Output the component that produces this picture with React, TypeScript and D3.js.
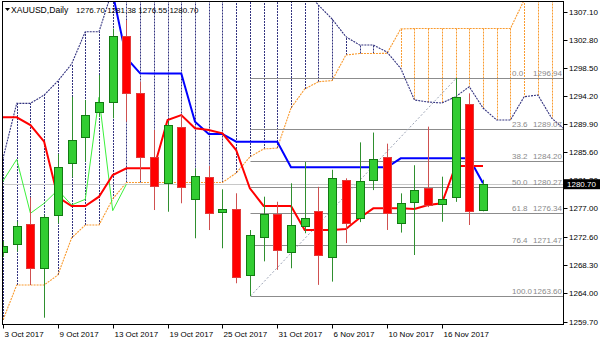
import React from "react";
import * as d3 from "d3";

const dates = ["3 Oct 2017","4 Oct 2017","5 Oct 2017","6 Oct 2017","9 Oct 2017","10 Oct 2017","11 Oct 2017","12 Oct 2017","13 Oct 2017","16 Oct 2017","17 Oct 2017","18 Oct 2017","19 Oct 2017","20 Oct 2017","23 Oct 2017","24 Oct 2017","25 Oct 2017","26 Oct 2017","27 Oct 2017","30 Oct 2017","31 Oct 2017","1 Nov 2017","2 Nov 2017","3 Nov 2017","6 Nov 2017","7 Nov 2017","8 Nov 2017","9 Nov 2017","10 Nov 2017","13 Nov 2017","14 Nov 2017","15 Nov 2017","16 Nov 2017","17 Nov 2017","20 Nov 2017","21 Nov 2017"];

const opens = [1270.33,1271.51,1274.61,1267.84,1275.99,1283.90,1287.87,1291.79,1293.32,1303.36,1294.69,1284.90,1280.84,1289.40,1278.39,1281.75,1276.40,1276.91,1266.81,1272.58,1276.14,1270.38,1274.30,1276.65,1269.61,1281.34,1275.58,1281.34,1284.90,1274.72,1278.02,1280.07,1277.67,1278.79,1292.96,1276.70];
const highs = [1272.00,1275.00,1278.70,1276.00,1285.32,1294.08,1293.58,1297.40,1304.50,1305.80,1296.37,1288.99,1290.30,1291.28,1283.13,1283.48,1279.92,1279.31,1273.69,1278.79,1278.02,1280.84,1284.10,1280.30,1282.90,1281.60,1287.10,1288.60,1286.90,1279.30,1283.60,1289.50,1281.85,1296.94,1294.60,1281.38];
const lows = [1269.60,1270.40,1265.30,1260.28,1274.72,1281.76,1284.14,1291.00,1290.78,1290.26,1281.34,1276.75,1276.49,1277.78,1272.43,1273.69,1270.90,1265.55,1263.60,1268.90,1267.60,1267.84,1273.20,1265.30,1265.80,1271.70,1274.90,1279.80,1273.70,1273.30,1269.87,1277.20,1274.96,1278.00,1274.46,1276.55];
const closes = [1271.25,1274.35,1267.84,1275.64,1283.38,1287.46,1291.28,1293.32,1303.36,1294.69,1284.90,1280.47,1289.75,1280.32,1281.95,1276.25,1276.86,1266.55,1272.93,1276.14,1270.64,1274.46,1275.50,1269.87,1281.60,1274.81,1281.19,1284.50,1276.25,1277.78,1279.81,1277.52,1278.39,1293.99,1276.65,1280.70];

// Ichimoku values, first entry is bar index -1
const tenkan = [1290.93,1290.93,1290.93,1289.75,1287.20,1278.74,1277.37,1277.37,1278.79,1282.11,1283.13,1283.13,1283.13,1290.52,1291.28,1289.25,1288.99,1288.48,1285.93,1280.07,1277.37,1277.37,1277.37,1273.69,1273.69,1273.69,1273.85,1275.53,1277.01,1277.01,1277.01,1276.91,1277.52,1277.78,1283.48,1283.48,1283.48];
const kijun = [1310.5,1310.5,1310.5,1310.5,1310.5,1310.5,1310.5,1310.5,1310.5,1309.9,1300.0,1297.66,1297.63,1297.63,1297.63,1290.26,1288.38,1288.38,1287.20,1287.20,1287.20,1287.20,1283.28,1283.28,1283.28,1283.28,1283.28,1283.28,1283.28,1283.28,1284.66,1284.66,1284.66,1284.66,1284.66,1284.66,1280.84];
const spanA = [1257.0,1259.93,1265.28,1265.28,1265.28,1266.81,1272.47,1274.46,1274.46,1278.44,1280.96,1280.96,1280.96,1280.96,1280.96,1280.96,1280.96,1280.96,1282.41,1284.86,1286.08,1286.23,1292.35,1295.26,1296.37,1296.56,1300.46,1300.69,1300.69,1300.72,1304.45,1304.51,1304.51,1304.51,1304.51,1304.51,1304.51,1304.51,1304.51,1308.87,1312.0,1312.0,1312.0];
const spanB = [1278.0,1284.66,1293.07,1293.07,1294.34,1296.48,1299.08,1304.02,1304.02,1310.55,1310.55,1310.55,1310.55,1310.55,1310.55,1310.55,1310.55,1310.55,1310.55,1310.55,1310.55,1310.55,1310.55,1310.55,1308.10,1305.96,1303.26,1301.99,1301.99,1300.92,1298.42,1293.58,1293.27,1293.12,1294.08,1295.61,1292.35,1290.52,1290.52,1294.08,1294.34,1290.82,1289.0];

const yTicks = ["1307.10","1302.80","1298.50","1294.20","1289.90","1285.60","1281.30","1277.00","1272.60","1268.30","1264.00","1259.70"];
const fibLevels = ["0.0","23.6","38.2","50.0","61.8","76.4","100.0"];
const fibPrices = ["1296.94","1289.07","1284.20","1280.27","1276.34","1271.47","1263.60"];
const fibStartBar = 18;
const fibEndBar = 33;
const chikouShift = 26;

const FONT = "'Liberation Sans', Arial, sans-serif";
const ORANGE = "#f99a2e";
const NAVY = "#32327f";

export default function App() {
  const x = d3.scaleLinear().domain([0, 35]).range([3, 483]);
  const y = d3.scaleLinear().domain([1259.7, 1307.1]).range([321.5, 11.6]);
  const L = 2.5, R = 563.5, T = 1.5, B = 324.5;
  const cx = (i: number) => Math.round(x(i)) + 0.5;
  const cy = (p: number) => Math.round(y(p)) + 0.5;

  const idxLine = (arr: number[], off: number) =>
    d3.line<number>().x((_, k) => x(k - off)).y((v) => y(v))(arr) || "";

  const chikouVals = closes.slice(chikouShift - 1);
  const chikouPath = d3.line<number>().x((_, k) => x(k - 1)).y((v) => y(v))(chikouVals) || "";

  const verticals = spanA.map((a, k) => {
    const b = spanB[k];
    const i = k - 1;
    return (
      <line key={"v" + k} x1={cx(i)} x2={cx(i)} y1={y(a)} y2={y(b)}
        stroke={a >= b ? ORANGE : NAVY} strokeWidth={1} strokeDasharray="2 1" />
    );
  });

  const last = closes[closes.length - 1];
  const fibX0 = cx(fibStartBar);

  return (
    <svg width={600} height={343} style={{ position: "absolute", left: 0, top: 0, background: "#fff" }}
      fontFamily={FONT}>
      <defs>
        <clipPath id="plot">
          <rect x={L} y={T} width={R - L} height={B - T} />
        </clipPath>
      </defs>
      <rect x={0} y={0} width={600} height={343} fill="#fff" />
      <g clipPath="url(#plot)">
        {verticals}
        <path d={idxLine(spanA, 1)} fill="none" stroke={ORANGE} strokeWidth={1.1} strokeDasharray="2 1" />
        <path d={idxLine(spanB, 1)} fill="none" stroke={NAVY} strokeWidth={1.1} strokeDasharray="2 1" />
        {/* fibonacci */}
        {fibPrices.map((p, k) => (
          <line key={"f" + k} x1={fibX0} x2={R} y1={cy(+p)} y2={cy(+p)} stroke="#8c8c8c" strokeWidth={1} />
        ))}
        <line x1={cx(fibStartBar)} y1={y(+fibPrices[6])} x2={cx(fibEndBar)} y2={y(+fibPrices[0])}
          stroke="#9aa2b4" strokeWidth={1} strokeDasharray="2 2" />
        {/* bid line */}
        <line x1={L} x2={R} y1={cy(last)} y2={cy(last)} stroke="#c8c8c8" strokeWidth={1} />
        {/* indicator lines */}
        <path d={chikouPath} fill="none" stroke="#3cf03c" strokeWidth={1} />
        <path d={idxLine(kijun, 1)} fill="none" stroke="#0000ff" strokeWidth={2} />
        <path d={idxLine(tenkan, 1)} fill="none" stroke="#ff0000" strokeWidth={2} />
        {/* candles */}
        {closes.map((c, i) => {
          const o = opens[i];
          const up = c >= o;
          const X = cx(i);
          const top = cy(Math.max(o, c));
          const bot = cy(Math.min(o, c));
          return (
            <g key={"c" + i}>
              <line x1={X} x2={X} y1={y(highs[i])} y2={y(lows[i])}
                stroke={up ? "#2f8f2f" : "#cf5050"} strokeWidth={1} />
              <rect x={X - 4} y={top} width={8} height={Math.max(1, bot - top)}
                fill={up ? "#32cd32" : "#ff0000"} stroke={up ? "#127a12" : "#e23a3a"} strokeWidth={1} />
            </g>
          );
        })}
      </g>
      {/* fib labels */}
      {fibPrices.map((p, k) => (
        <g key={"fl" + k} fontSize={8} fill="#8a8a8a">
          <text x={512} y={cy(+p) - 2.5}>{fibLevels[k]}</text>
          <text x={562} y={cy(+p) - 2.5} textAnchor="end">{p}</text>
        </g>
      ))}
      {/* frame */}
      <rect x={L} y={T} width={R - L} height={B - T} fill="none" stroke="#000" strokeWidth={1} />
      {/* y axis */}
      {yTicks.map((t) => (
        <g key={"y" + t}>
          <line x1={R} x2={R + 4} y1={cy(+t)} y2={cy(+t)} stroke="#000" />
          <text x={569} y={y(+t) + 3} fontSize={8} fill="#000">{t}</text>
        </g>
      ))}
      {/* x axis */}
      {dates.map((d, i) => (i % 4 === 0 ? (
        <g key={"x" + i}>
          <line x1={cx(i)} x2={cx(i)} y1={B} y2={B + 4} stroke="#000" />
          <text x={cx(i) + 1} y={337} fontSize={8} fill="#000">{d}</text>
        </g>
      ) : null))}
      {/* current price label */}
      <rect x={564} y={y(last) - 5} width={36} height={10} fill="#000" />
      <text x={567} y={y(last) + 3} fontSize={8} fill="#fff">{last.toFixed(2)}</text>
      {/* title */}
      <path d="M5,8 L10,8 L7.5,11 Z" fill="#000" />
      <text x={11} y={12.5} fontSize={8.6} fill="#000">XAUUSD,Daily</text>
      <text x={76} y={12.5} fontSize={8} fill="#000">
        {`${opens[35].toFixed(2)} ${highs[35].toFixed(2)} ${lows[35].toFixed(2)} ${closes[35].toFixed(2)}`}
      </text>
    </svg>
  );
}
